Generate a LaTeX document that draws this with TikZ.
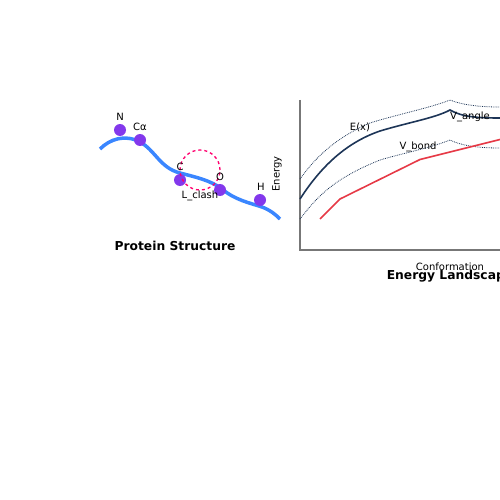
\documentclass[tikz,border=0pt]{standalone}
\usepackage{fontspec}
\setmainfont{DejaVu Sans}
\begin{document}
\begin{tikzpicture}[x=1pt,y=-1pt,
  atom/.style={circle,fill=atomc,inner sep=0pt,minimum size=12pt},
  lab/.style={font=\fontsize{10}{12}\selectfont,inner sep=0pt,text=black},
  ttl/.style={font=\fontsize{12.3}{14}\selectfont\bfseries,inner sep=0pt},
  env/.style={draw=navy,densely dotted,line width=0.8pt}]
\definecolor{atomc}{HTML}{8338EC}
\definecolor{chain}{HTML}{3A86FF}
\definecolor{clash}{HTML}{FF006E}
\definecolor{navy}{HTML}{1D3557}
\definecolor{bond}{HTML}{E63946}
\definecolor{axisc}{HTML}{777777}
\useasboundingbox (0,0) rectangle (500,500);
\clip (0,0) rectangle (500,500);
% backbone
\draw[chain,line width=3.5pt] (100,149) .. controls (110,139) and (125,134) .. (140,142)
  .. controls (155,150) and (160,168) .. (180,173)
  .. controls (195,177) and (210,180) .. (222,189)
  .. controls (235,200) and (250,203) .. (262,207)
  .. controls (270,210) and (275,214) .. (280,219);
\node[atom] (n) at (120,130) {};
\node[atom] (ca) at (140,140) {};
\node[atom] (c) at (180,180) {};
\node[atom] (o) at (220,190) {};
\node[atom] (h) at (260,200) {};
\node[draw=clash,dashed,line width=1.3pt,circle,minimum size=40pt,inner sep=0pt] (cl) at (200,170) {};
\node[lab] at (120,117) {N};
\node[lab] at (140,127) {Cα};
\node[lab] at (180,167) {C};
\node[lab] at (220,177) {O};
\node[lab] at (261,187) {H};
\node[lab] at (200,196) {L\_clash};
\node[ttl] (pt) at (175,246) {Protein Structure};
% axes
\coordinate (o0) at (300,250);
\coordinate (yt) at (300,100);
\coordinate (xr) at (500,250);
\draw[axisc,line width=1.2pt] (yt) -- (o0) -- (xr);
\node[lab,rotate=90] (el) at (277,174) {Energy};
\node[lab] (cf) at (450,267) {Conformation};
\node[ttl] (lt) at (450,276) {Energy Landscape};
% envelopes
\draw[env] (300,179) .. controls (315,158) and (335,138) .. (370,123)
  .. controls (395,115) and (430,108) .. (450,100)
  .. controls (460,104) and (475,107) .. (500,107);
\draw[env] (300,219) .. controls (315,200) and (330,180) .. (380,160)
  .. controls (400,154) and (430,148) .. (450,140)
  .. controls (460,145) and (475,148) .. (500,148);
% E(x)
\draw[navy,line width=1.6pt] (300,199) .. controls (320,168) and (345,143) .. (380,131)
  .. controls (410,122) and (435,118) .. (450,110)
  .. controls (462,117) and (478,118) .. (500,118);
% V_bond
\draw[bond,line width=1.6pt] (320,219) -- (340,199) -- (420,159.5) -- (500,139.5);
\node[lab] at (360,127) {E(x)};
\node[lab] at (418,147) {V\_bond};
\node[lab] at (470,117) {V\_angle};
\end{tikzpicture}
\end{document}
